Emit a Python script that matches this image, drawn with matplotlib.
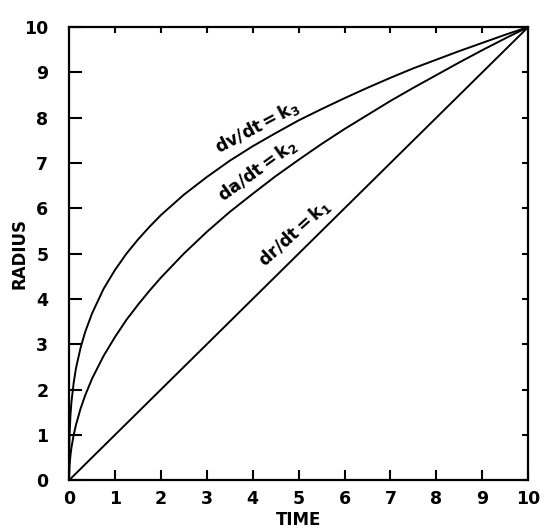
import numpy as np
import matplotlib.pyplot as plt

# valores
tiempo = [0, 0.001, 0.01, 0.03, 0.05, 0.1, 0.15, 0.25, 0.35, 0.5, 0.75, 1, 1.25, 1.5, 1.75, 2, 2.5,
          3, 3.5, 4, 4.5, 5, 5.5, 6, 6.5, 7, 7.5, 8, 8.5, 9, 9.5, 10]
radio_k2 = [0, 0.10, 0.32, 0.55, 0.71, 1.0, 1.22, 1.58, 1.87, 2.24, 2.74, 3.16, 3.54, 3.87, 4.18, 4.47, 5.0,
            5.48, 5.92, 6.32, 6.71, 7.07, 7.42, 7.75, 8.06, 8.37, 8.66, 8.94, 9.22, 9.49, 9.75, 10]
radio_k3 = [0, 0.46, 1.0, 1.44, 1.71, 2.15, 2.47, 2.92, 3.27, 3.68, 4.22, 4.64, 5.0, 5.31, 5.59, 5.85, 6.30,
            6.69, 7.05, 7.37, 7.66, 7.94, 8.19, 8.43, 8.66, 8.88, 9.09, 9.28, 9.47, 9.65, 9.83, 10]
tiempo_k1 = [0, 10]
radio_k1 = [0, 10]

etiquetas = [r'dr/dt$\,$=$\,$k$_1$', r'da/dt$\,$=$\,$k$_2$', r'dv/dt$\,$=$\,$k$_3$']

plt.rcParams['font.family'] = 'DejaVu Sans'
plt.rcParams['font.weight'] = 'bold'
plt.rcParams['mathtext.default'] = 'bf'

fig = plt.figure(figsize=(5.44, 5.30), dpi=100)
ax = fig.add_axes([0.127, 0.094, 0.844, 0.855])

ax.plot(tiempo_k1, radio_k1, color='black', lw=1.4)
ax.plot(tiempo, radio_k2, color='black', lw=1.4)
ax.plot(tiempo, radio_k3, color='black', lw=1.4)

ax.set_xlim(0, 10)
ax.set_ylim(0, 10)
ax.set_xticks(range(0, 11))
ax.set_yticks(range(0, 11))

ax.tick_params(axis='both', direction='in', width=1.5, labelsize=12.5)
ax.tick_params(axis='x', pad=7, length=7)
ax.tick_params(axis='y', pad=15, length=9)
ax.tick_params(top=True, right=True, labeltop=False, labelright=False)
# marcas cortas arriba y a la derecha
for t in ax.xaxis.get_major_ticks() + ax.yaxis.get_major_ticks():
  t.tick2line.set_markersize(4)
for s in ax.spines.values():
  s.set_linewidth(1.6)

ax.text(4.1, 7.8, etiquetas[2], rotation=28, ha='center', va='center', fontsize=12.5, fontweight='bold')
ax.text(4.1, 6.85, etiquetas[1], rotation=36, ha='center', va='center', fontsize=12.5, fontweight='bold')
ax.text(4.9, 5.45, etiquetas[0], rotation=42, ha='center', va='center', fontsize=12.5, fontweight='bold')

ax.set_xlabel('TIME', fontsize=12, fontweight='bold', labelpad=2)
ax.set_ylabel('RADIUS', fontsize=12, fontweight='bold', labelpad=-3)

plt.savefig('out.png', dpi=100)
